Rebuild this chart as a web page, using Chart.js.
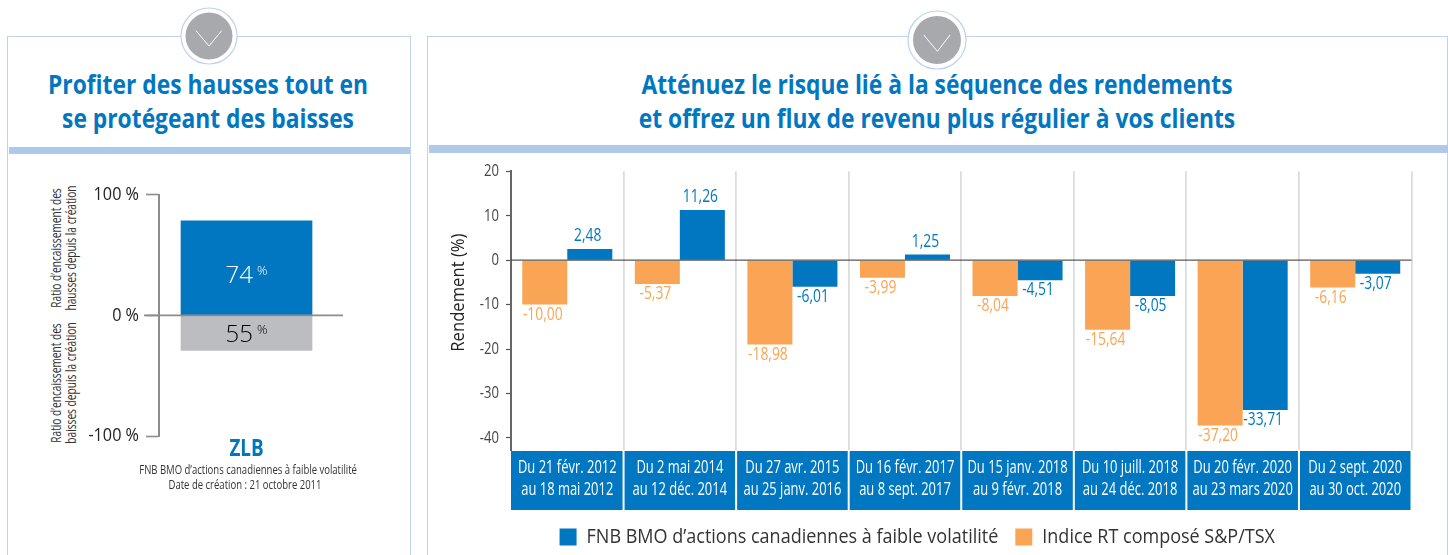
<!DOCTYPE html>
<html lang="fr"><head><meta charset="utf-8">
<script src="https://cdn.jsdelivr.net/npm/chart.js@4"></script>
<style>
html,body{margin:0;padding:0;background:#fff;overflow:hidden;width:1448px;height:555px}
body{position:relative;font-family:"Open Sans",sans-serif}
.frame{position:absolute;box-sizing:border-box;border:1.5px solid #bdd4f0;border-bottom:none}
.band{position:absolute;background:#aec9e9}
.title{position:absolute;text-align:center;color:#0077c0;font-weight:700;font-size:27px;line-height:34px;white-space:nowrap;transform:scaleX(.845)}
canvas{position:absolute}
.side{position:absolute;width:300px;transform:translate(-50%,-50%) rotate(-90deg) scaleX(.7);text-align:center;white-space:nowrap;font-size:14.5px;line-height:14.5px;color:#333}
.sub{position:absolute;left:95px;width:300px;text-align:center;font-size:13.5px;line-height:15px;color:#333;white-space:nowrap;transform:scaleX(.705)}
svg{position:absolute}
</style></head><body>
<div class="frame" style="left:7px;top:36px;width:404px;height:530px"></div>
<div class="band" style="left:8.5px;top:147px;width:401px;height:7px"></div>
<div class="frame" style="left:427px;top:36px;width:1021px;height:530px"></div>
<div class="band" style="left:428.5px;top:145px;width:1019.5px;height:8px"></div>
<svg style="left:177.5px;top:4.5px" width="62" height="62" viewBox="0 0 62 62"><circle cx="31" cy="31" r="28" fill="#fff" stroke="#bcd3ef" stroke-width="1.2"/><circle cx="31" cy="31" r="23.5" fill="#a7a9ac"/><path d="M18 25.7 L31 41 L43.7 25.7" fill="none" stroke="#fff" stroke-width="1"/></svg>
<svg style="left:906px;top:9px" width="62" height="62" viewBox="0 0 62 62"><circle cx="31" cy="31" r="29" fill="#fff" stroke="#bcd3ef" stroke-width="1.2"/><circle cx="31" cy="31" r="24" fill="#a7a9ac"/><path d="M17.8 26 L31.4 42.4 L44 26" fill="none" stroke="#fff" stroke-width="1"/></svg>
<div class="title" style="left:8px;width:400px;top:67px">Profiter des hausses tout en<br>se protégeant des baisses</div>
<div class="title" style="left:437px;width:1000px;top:67px">Atténuez le risque lié à la séquence des rendements<br>et offrez un flux de revenu plus régulier à vos clients</div>
<div class="side" style="left:63px;top:248px">Ratio d’encaissement des<br>hausses depuis la création</div>
<div class="side" style="left:63px;top:383px">Ratio d’encaissement des<br>baisses depuis la création</div>
<canvas id="left" style="left:10px;top:177px"></canvas>
<div class="sub" style="top:462px">FNB BMO d’actions canadiennes à faible volatilité<br>Date de création : 21 octobre 2011</div>
<canvas id="main" style="left:423px;top:154px"></canvas>
<script>
const FONT='"Open Sans",sans-serif';
const BLUE='#0077c0',ORANGE='#faa555',GREY='#bcbdc0';

// Left chart: heights; the printed labels differ from them.
const fundName=['ZLB'];
const upBar=[78.5];
const downBar=[-29];
const upLabel=['74'];
const downLabel=['55'];
const leftTicks=[-100,0,100];

// Main chart
const periodStart=['Du 21 févr. 2012','Du 2 mai 2014','Du 27 avr. 2015','Du 16 févr. 2017','Du 15 janv. 2018','Du 10 juill. 2018','Du 20 févr. 2020','Du 2 sept. 2020'];
const periodEnd=['au 18 mai 2012','au 12 déc. 2014','au 25 janv. 2016','au 8 sept. 2017','au 9 févr. 2018','au 24 déc. 2018','au 23 mars 2020','au 30 oct. 2020'];
const tsxValues=[-10.00,-5.37,-18.98,-3.99,-8.04,-15.64,-37.20,-6.16];
const fundValues=[2.48,11.26,-6.01,1.25,-4.51,-8.05,-33.71,-3.07];
const mainTicks=[-40,-30,-20,-10,0,10,20];
const yAxisTitle='Rendement (%)';
const fundSeries='FNB BMO d’actions canadiennes à faible volatilité';
const tsxSeries='Indice RT composé S&P/TSX';

// The reference uses a condensed face: squeeze canvas text horizontally, by font size.
function condense(ctx,kFor){
  const fill=ctx.fillText.bind(ctx),meas=ctx.measureText.bind(ctx);
  const k=()=>{const m=/([\d.]+)px/.exec(ctx.font);return kFor(m?parseFloat(m[1]):12);};
  ctx.fillText=function(t,x,y,mw){ctx.save();ctx.translate(x,y);ctx.scale(k(),1);fill(t,0,0);ctx.restore();};
  ctx.measureText=function(t){const r=meas(t);return {width:r.width*k(),actualBoundingBoxAscent:r.actualBoundingBoxAscent,actualBoundingBoxDescent:r.actualBoundingBoxDescent};};
  return ctx;
}
function size(id,w,h){const c=document.getElementById(id);c.width=w;c.height=h;c.style.width=w+'px';c.style.height=h+'px';return c;}

const leftPlugin={id:'leftDeco',afterDatasetsDraw(ch){
  const c=ch.ctx,y=ch.scales.y,a=ch.chartArea,z=y.getPixelForValue(0);
  c.save();
  c.strokeStyle='#8c8c8e';c.lineWidth=1.6;c.beginPath();c.moveTo(a.left-15,z);c.lineTo(a.right+9,z);c.stroke();
  const put=(el,txt,col,dy)=>{
    c.textBaseline='middle';c.fillStyle=col;
    c.font='300 24px "Open Sans"';const w=c.measureText(txt).width;
    c.font='300 13px "Open Sans"';const p=c.measureText('%').width;
    const x0=el.x-(w+4+p)/2, yy=el.base+(el.y-el.base)/2+dy;
    c.font='300 24px "Open Sans"';c.textAlign='left';c.fillText(txt,x0,yy);
    c.font='300 13px "Open Sans"';c.fillText('%',x0+w+4,yy-5);
  };
  put(ch.getDatasetMeta(0).data[0],upLabel[0],'#fff',8);
  put(ch.getDatasetMeta(1).data[0],downLabel[0],'#000',2);
  c.restore();
}};
const leftCanvas=size('left',380,289);
condense(leftCanvas.getContext('2d'),px=>px===23?.82:px===18?.9:1);
new Chart(leftCanvas,{type:'bar',
  data:{labels:fundName,datasets:[
    {data:upBar,backgroundColor:BLUE,barThickness:131,stack:'s'},
    {data:downBar,backgroundColor:GREY,barThickness:131,stack:'s'}]},
  options:{responsive:false,animation:false,
    layout:{padding:{top:0,right:56,bottom:0,left:0}},
    plugins:{legend:{display:false},tooltip:{enabled:false}},
    scales:{
      x:{stacked:true,grid:{display:false,drawTicks:false},border:{display:false},
        afterFit(s){s.height=30},
        ticks:{color:BLUE,padding:0,font:{family:FONT,size:23,weight:'bold'}}},
      y:{min:-100,max:100,afterFit(s){s.width=149},
        afterBuildTicks(s){s.ticks=leftTicks.map(v=>({value:v}))},
        border:{color:'#8c8c8e',width:2},
        grid:{drawOnChartArea:false,tickLength:13,tickColor:'#8c8c8e',tickWidth:1.6},
        ticks:{color:'#222',padding:7,callback:v=>v+' %',font:{family:FONT,size:18}}}
    }},plugins:[leftPlugin]});

const mainPlugin={id:'mainDeco',
  beforeDraw(ch){
    const c=ch.ctx,x=ch.scales.x,w=x.width/x.ticks.length;
    c.save();c.fillStyle=BLUE;
    x.ticks.forEach((t,i)=>{const p=x.getPixelForTick(i);
      c.fillRect(p-w/2+(i?1:0),x.top+1,w-(i?2:1),x.bottom-x.top-1);});
    c.restore();
  },
  afterDatasetsDraw(ch){
    const c=ch.ctx,y=ch.scales.y,a=ch.chartArea;c.save();
    // zero line runs over the bars
    const z=y.getPixelForValue(0);
    c.strokeStyle='rgba(70,70,70,.9)';c.lineWidth=1.3;c.beginPath();c.moveTo(a.left,z);c.lineTo(a.right,z);c.stroke();
    c.font='18px '+FONT;c.textAlign='center';c.textBaseline='middle';
    ch.data.datasets.forEach((d,di)=>{
      c.fillStyle=d.backgroundColor;
      ch.getDatasetMeta(di).data.forEach((el,i)=>{
        const v=d.data[i];
        c.fillText(v.toFixed(2).replace('.',','),el.x-2,v>=0?el.y-13:el.y+10);
      });
    });
    // axis title sits above the middle of the axis in the reference
    c.translate(36,y.getPixelForValue(-7.3));c.rotate(-Math.PI/2);
    c.font='18.5px '+FONT;c.fillStyle='#222';c.fillText(yAxisTitle,0,0);
    c.restore();
  }};
const mainCanvas=size('main',998,403);
condense(mainCanvas.getContext('2d'),px=>px>=20?.9:px===17.5?.74:px===18.5?.9:.77);
new Chart(mainCanvas,{type:'bar',
  data:{labels:periodStart.map((s,i)=>[s,periodEnd[i]]),datasets:[
    {label:tsxSeries,data:tsxValues,backgroundColor:ORANGE},
    {label:fundSeries,data:fundValues,backgroundColor:BLUE}]},
  options:{responsive:false,animation:false,
    datasets:{bar:{categoryPercentage:0.8,barPercentage:1}},
    layout:{padding:{top:0,right:9.5,bottom:0,left:0}},
    plugins:{tooltip:{enabled:false},
      legend:{position:'bottom',reverse:true,
        labels:{boxWidth:17,boxHeight:17,padding:17,color:'#333',font:{family:FONT,size:20}}}},
    scales:{
      x:{grid:{color:'#dcdcdc',lineWidth:1.8,drawTicks:false},border:{display:false},
        afterFit(s){s.height=60},
        ticks:{color:'#fff',padding:7,maxRotation:0,autoSkip:false,font:{family:FONT,size:17.5,lineHeight:1.25}}},
      y:{min:-42.7,max:20,afterFit(s){s.width=88},
        afterBuildTicks(s){s.ticks=mainTicks.map(v=>({value:v}))},
        border:{color:'#666',width:2},
        grid:{drawOnChartArea:false,tickColor:'#555',tickLength:5,tickWidth:1.2},
        ticks:{color:'#444',padding:7,callback:v=>String(v),font:{family:FONT,size:17}}}
    }},plugins:[mainPlugin]});
</script></body></html>
